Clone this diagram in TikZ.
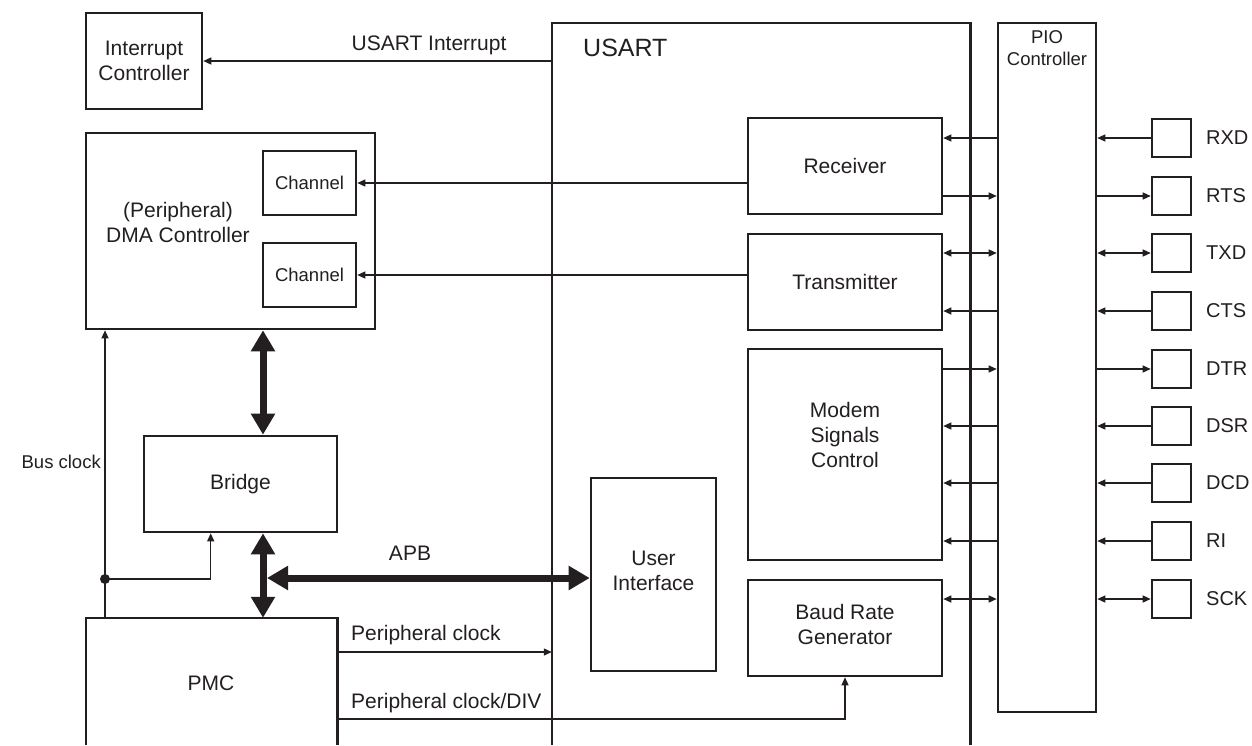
\documentclass[tikz,border=0pt]{standalone}
\usepackage{fontspec}
\setmainfont{Liberation Sans}
\usetikzlibrary{arrows.meta,calc}
\definecolor{ink}{RGB}{35,31,32}
\begin{document}
\begin{tikzpicture}[x=1pt,y=-1pt,
  every node/.style={text=ink},
  box/.style={draw=ink, line width=2.6pt, inner sep=0pt, align=center, font=\fontsize{21}{25}\selectfont},
  ghost/.style={draw=none, inner sep=0pt},
  pinbox/.style={draw=ink, line width=2.6pt, minimum width=39pt, minimum height=38pt, inner sep=0pt},
  big/.style={font=\fontsize{21}{25}\selectfont, align=center, inner sep=0pt},
  small/.style={font=\fontsize{18.5}{22}\selectfont, align=center, inner sep=0pt},
  pinlbl/.style={font=\fontsize{20}{24}\selectfont, inner sep=0pt, anchor=west},
  outline/.style={draw=ink, line width=2.6pt},
  wire/.style={draw=ink, line width=1.3pt},
  tipend/.style={-{Triangle[length=8pt,width=7pt]}},
  tipboth/.style={{Triangle[length=8pt,width=7pt]}-{Triangle[length=8pt,width=7pt]}},
  bus/.style={draw=ink, line width=7pt, {Triangle[length=21pt,width=23pt]}-{Triangle[length=21pt,width=23pt]}}
]
\clip (0,0) rectangle (1252,745);
\fill[white] (0,0) rectangle (1252,745);

% big frames
\node[ghost, minimum width=418pt, minimum height=722pt] (usart) at (761,384) {};
\draw[outline] (usart.south west) -- (usart.north west) -- (usart.north east) -- (usart.south east);
\node[big, font=\fontsize{25}{30}\selectfont, anchor=west] (usartlbl) at (583,48) {USART};

\node[box, minimum width=98pt, minimum height=689pt] (pio) at (1047,367.5) {};
\node[small, anchor=north] (piolbl) at (1047,30) {PIO\\Controller};

% left blocks
\node[box, minimum width=116pt, minimum height=96pt] (intc) at (144,61) {Interrupt\\Controller};
\node[box, minimum width=289pt, minimum height=196pt] (dma) at (230.5,231) {};
\node[big] (dmatxt) at (178,222) {(Peripheral)\\DMA Controller};
\node[box, font=\fontsize{18.5}{22}\selectfont, minimum width=93pt, minimum height=64pt] (ch1) at (309.5,183) {Channel};
\node[box, font=\fontsize{18.5}{22}\selectfont, minimum width=93pt, minimum height=64pt] (ch2) at (309.5,275) {Channel};
\node[box, minimum width=193pt, minimum height=96pt] (bridge) at (240.5,484) {Bridge};
\node[ghost, minimum width=251pt, minimum height=127pt] (pmc) at (211.5,681.5) {};
\draw[outline] (pmc.south west) -- (pmc.north west) -- (pmc.north east) -- (pmc.south east);
\node[big] (pmctxt) at (211,683) {PMC};

% USART internal blocks
\node[box, minimum width=194pt, minimum height=96pt] (rx) at (845,166) {Receiver};
\node[box, minimum width=194pt, minimum height=96pt] (tx) at (845,282) {Transmitter};
\node[box, minimum width=194pt, minimum height=211pt] (modem) at (845,454.5) {};
\node[big] (modemtxt) at (845,435) {Modem\\Signals\\Control};
\node[box, minimum width=194pt, minimum height=96pt] (baud) at (845,628) {};
\node[big] (baudtxt) at (845,624) {Baud Rate\\Generator};
\node[box, minimum width=125pt, minimum height=193pt] (ui) at (653.5,574.5) {};
\node[big] (uitxt) at (653.5,571) {User\\Interface};

% pins
\foreach \n/\y in {RXD/138,RTS/196,TXD/253,CTS/311,DTR/369,DSR/426,DCD/483,RI/541,SCK/599}{
  \node[pinbox] (p\n) at (1171.5,\y) {};
  \node[pinlbl] (l\n) at (1206,\y) {\n};
}

% pin <-> PIO
\draw[wire,tipend] (pRXD.west) -- (pio.east |- pRXD);
\draw[wire,tipend] (pio.east |- pRTS) -- (pRTS.west);
\draw[wire,tipboth] (pio.east |- pTXD) -- (pTXD.west);
\draw[wire,tipend] (pCTS.west) -- (pio.east |- pCTS);
\draw[wire,tipend] (pio.east |- pDTR) -- (pDTR.west);
\draw[wire,tipend] (pDSR.west) -- (pio.east |- pDSR);
\draw[wire,tipend] (pDCD.west) -- (pio.east |- pDCD);
\draw[wire,tipend] (pRI.west) -- (pio.east |- pRI);
\draw[wire,tipboth] (pio.east |- pSCK) -- (pSCK.west);

% PIO <-> USART blocks
\draw[wire,tipend] (pio.west |- pRXD) -- (rx.east |- pRXD);
\draw[wire,tipend] (rx.east |- pRTS) -- (pio.west |- pRTS);
\draw[wire,tipboth] (tx.east |- pTXD) -- (pio.west |- pTXD);
\draw[wire,tipend] (pio.west |- pCTS) -- (tx.east |- pCTS);
\draw[wire,tipend] (modem.east |- pDTR) -- (pio.west |- pDTR);
\draw[wire,tipend] (pio.west |- pDSR) -- (modem.east |- pDSR);
\draw[wire,tipend] (pio.west |- pDCD) -- (modem.east |- pDCD);
\draw[wire,tipend] (pio.west |- pRI) -- (modem.east |- pRI);
\draw[wire,tipboth] (baud.east |- pSCK) -- (pio.west |- pSCK);

% to DMA channels and interrupt
\draw[wire,tipend] (rx.west |- ch1.east) -- (ch1.east);
\draw[wire,tipend] (tx.west |- ch2.east) -- (ch2.east);
\draw[wire,tipend] (usart.west |- intc.east) -- (intc.east);
\node[big] (intlbl) at (429,45) {USART Interrupt};

% buses
\coordinate (busx) at (263,0);
\draw[bus] (dma.south -| busx) -- (bridge.north -| busx);
\draw[bus] (bridge.south -| busx) -- (pmc.north -| busx);
\coordinate (apbl) at (267,578);
\draw[bus] (apbl) -- (ui.west |- apbl);
\node[big] (apblbl) at (410,553) {APB};

% bus clock
\coordinate (bcx) at (105,0);
\coordinate (dot) at (105,579);
\draw[wire,tipend] (pmc.north -| bcx) -- (dma.south -| bcx);
\fill[ink] (dot) circle (5);
\coordinate (brin) at ($(bridge.south west)+(68,0)$);
\draw[wire,tipend] (dot) -| (brin);
\node[font=\fontsize{18.5}{22}\selectfont, inner sep=0pt, anchor=east] (bclbl) at (101,462) {Bus clock};

% peripheral clocks
\coordinate (pc) at (pmc.east |- 0,652);
\draw[wire,tipend] (pc) -- (pc -| usart.west);
\node[big, anchor=west] (pclbl) at (351,635) {Peripheral clock};
\coordinate (pd) at (pmc.east |- 0,719);
\draw[wire,tipend] (pd) -| (baud.south);
\node[big, anchor=west] (pdlbl) at (351,703) {Peripheral clock/DIV};
\end{tikzpicture}
\end{document}
